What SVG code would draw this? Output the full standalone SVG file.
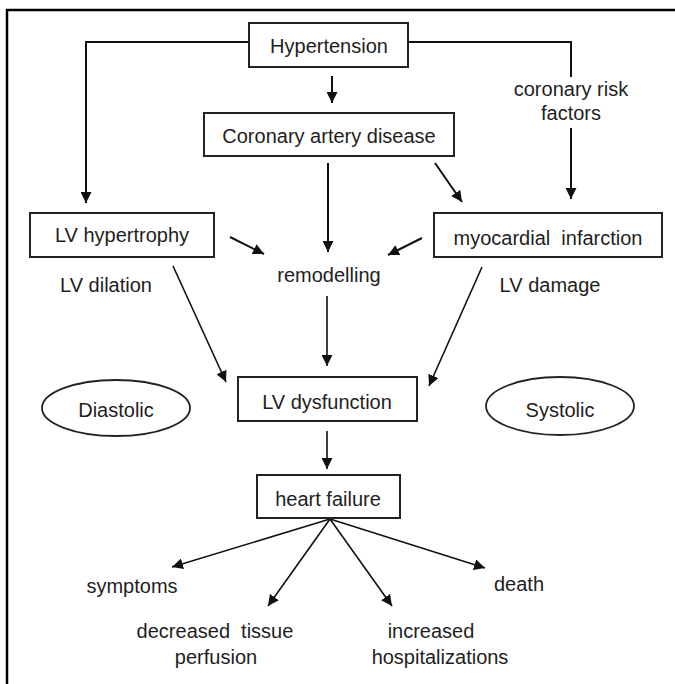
<svg xmlns="http://www.w3.org/2000/svg" width="675" height="684" viewBox="0 0 675 684">
<defs>
<marker id="ah" viewBox="0 0 10 10" refX="10" refY="5" markerWidth="11" markerHeight="11" markerUnits="userSpaceOnUse" orient="auto">
<path d="M0,0 L10,5 L0,10 z" fill="#111"/>
</marker>
<style>
.box{fill:#fff;stroke:#222;stroke-width:2}
.t{font-family:"Liberation Sans",Arial,sans-serif;font-size:20px;fill:#1e1e1e;text-anchor:middle;dominant-baseline:central}
.c{fill:none;stroke:#111;stroke-width:2}
.c1{fill:none;stroke:#111;stroke-width:1.6}
</style>
</defs>
<rect width="675" height="684" fill="#fff"/>
<rect x="7" y="10" width="690" height="700" fill="none" stroke="#000" stroke-width="2.5"/>
<g id="connectors">
<polyline class="c" points="249,42 86,42 86,203" marker-end="url(#ah)"/>
<polyline class="c" points="408,42 571,42 571,77"/>
<line class="c" x1="571" y1="128" x2="571" y2="199" marker-end="url(#ah)"/>
<line class="c" x1="332" y1="76" x2="332" y2="103" marker-end="url(#ah)"/>
<line class="c" x1="328" y1="163" x2="328" y2="252" marker-end="url(#ah)"/>
<line class="c" x1="435" y1="163" x2="462" y2="202" marker-end="url(#ah)"/>
<line class="c" x1="230" y1="237" x2="264" y2="254" marker-end="url(#ah)"/>
<line class="c" x1="422" y1="238" x2="388" y2="255" marker-end="url(#ah)"/>
<line class="c1" x1="173" y1="266" x2="226" y2="382" marker-end="url(#ah)"/>
<line class="c1" x1="482" y1="267" x2="429" y2="386" marker-end="url(#ah)"/>
<line class="c1" x1="327" y1="296" x2="327" y2="366" marker-end="url(#ah)"/>
<line class="c1" x1="327" y1="431" x2="327" y2="469" marker-end="url(#ah)"/>
<line class="c1" x1="330" y1="519" x2="172" y2="567" marker-end="url(#ah)"/>
<line class="c1" x1="330" y1="519" x2="268" y2="606" marker-end="url(#ah)"/>
<line class="c1" x1="330" y1="519" x2="392" y2="606" marker-end="url(#ah)"/>
<line class="c1" x1="330" y1="519" x2="485" y2="568" marker-end="url(#ah)"/>
</g>
<g id="hypertension"><rect class="box" x="249" y="23" width="159" height="44" stroke-width="2.5"/><text class="t" x="329" y="46">Hypertension</text></g>
<g id="cad"><rect class="box" x="204" y="113" width="250" height="43" stroke-width="2.5"/><text class="t" x="329" y="136">Coronary artery disease</text></g>
<g id="risk"><text class="t" x="571" y="89">coronary risk</text><text class="t" x="571" y="113">factors</text></g>
<g id="lvh"><rect class="box" x="30" y="213" width="184" height="44"/><text class="t" x="122" y="235">LV hypertrophy</text></g>
<g id="mi"><rect class="box" x="434" y="213" width="228" height="44"/><text class="t" x="548" y="238" xml:space="preserve">myocardial  infarction</text></g>
<g id="remodelling"><text class="t" x="329" y="275">remodelling</text></g>
<g id="dilation"><text class="t" x="106" y="285">LV dilation</text></g>
<g id="damage"><text class="t" x="550" y="285">LV damage</text></g>
<g id="diastolic"><ellipse cx="116" cy="408" rx="74" ry="28" fill="#fff" stroke="#222" stroke-width="1.8"/><text class="t" x="116" y="410">Diastolic</text></g>
<g id="lvd"><rect class="box" x="238" y="377" width="179" height="44"/><text class="t" x="327" y="402">LV dysfunction</text></g>
<g id="systolic"><ellipse cx="560" cy="406" rx="74" ry="29" fill="#fff" stroke="#222" stroke-width="1.8"/><text class="t" x="560" y="410">Systolic</text></g>
<g id="hf"><rect class="box" x="257" y="475" width="143" height="43"/><text class="t" x="328" y="499">heart failure</text></g>
<g id="symptoms"><text class="t" x="132" y="586">symptoms</text></g>
<g id="death"><text class="t" x="519" y="584">death</text></g>
<g id="perfusion"><text class="t" x="215" y="631" xml:space="preserve">decreased  tissue</text><text class="t" x="216" y="657">perfusion</text></g>
<g id="hosp"><text class="t" x="431" y="631">increased</text><text class="t" x="440" y="657">hospitalizations</text></g>
</svg>
